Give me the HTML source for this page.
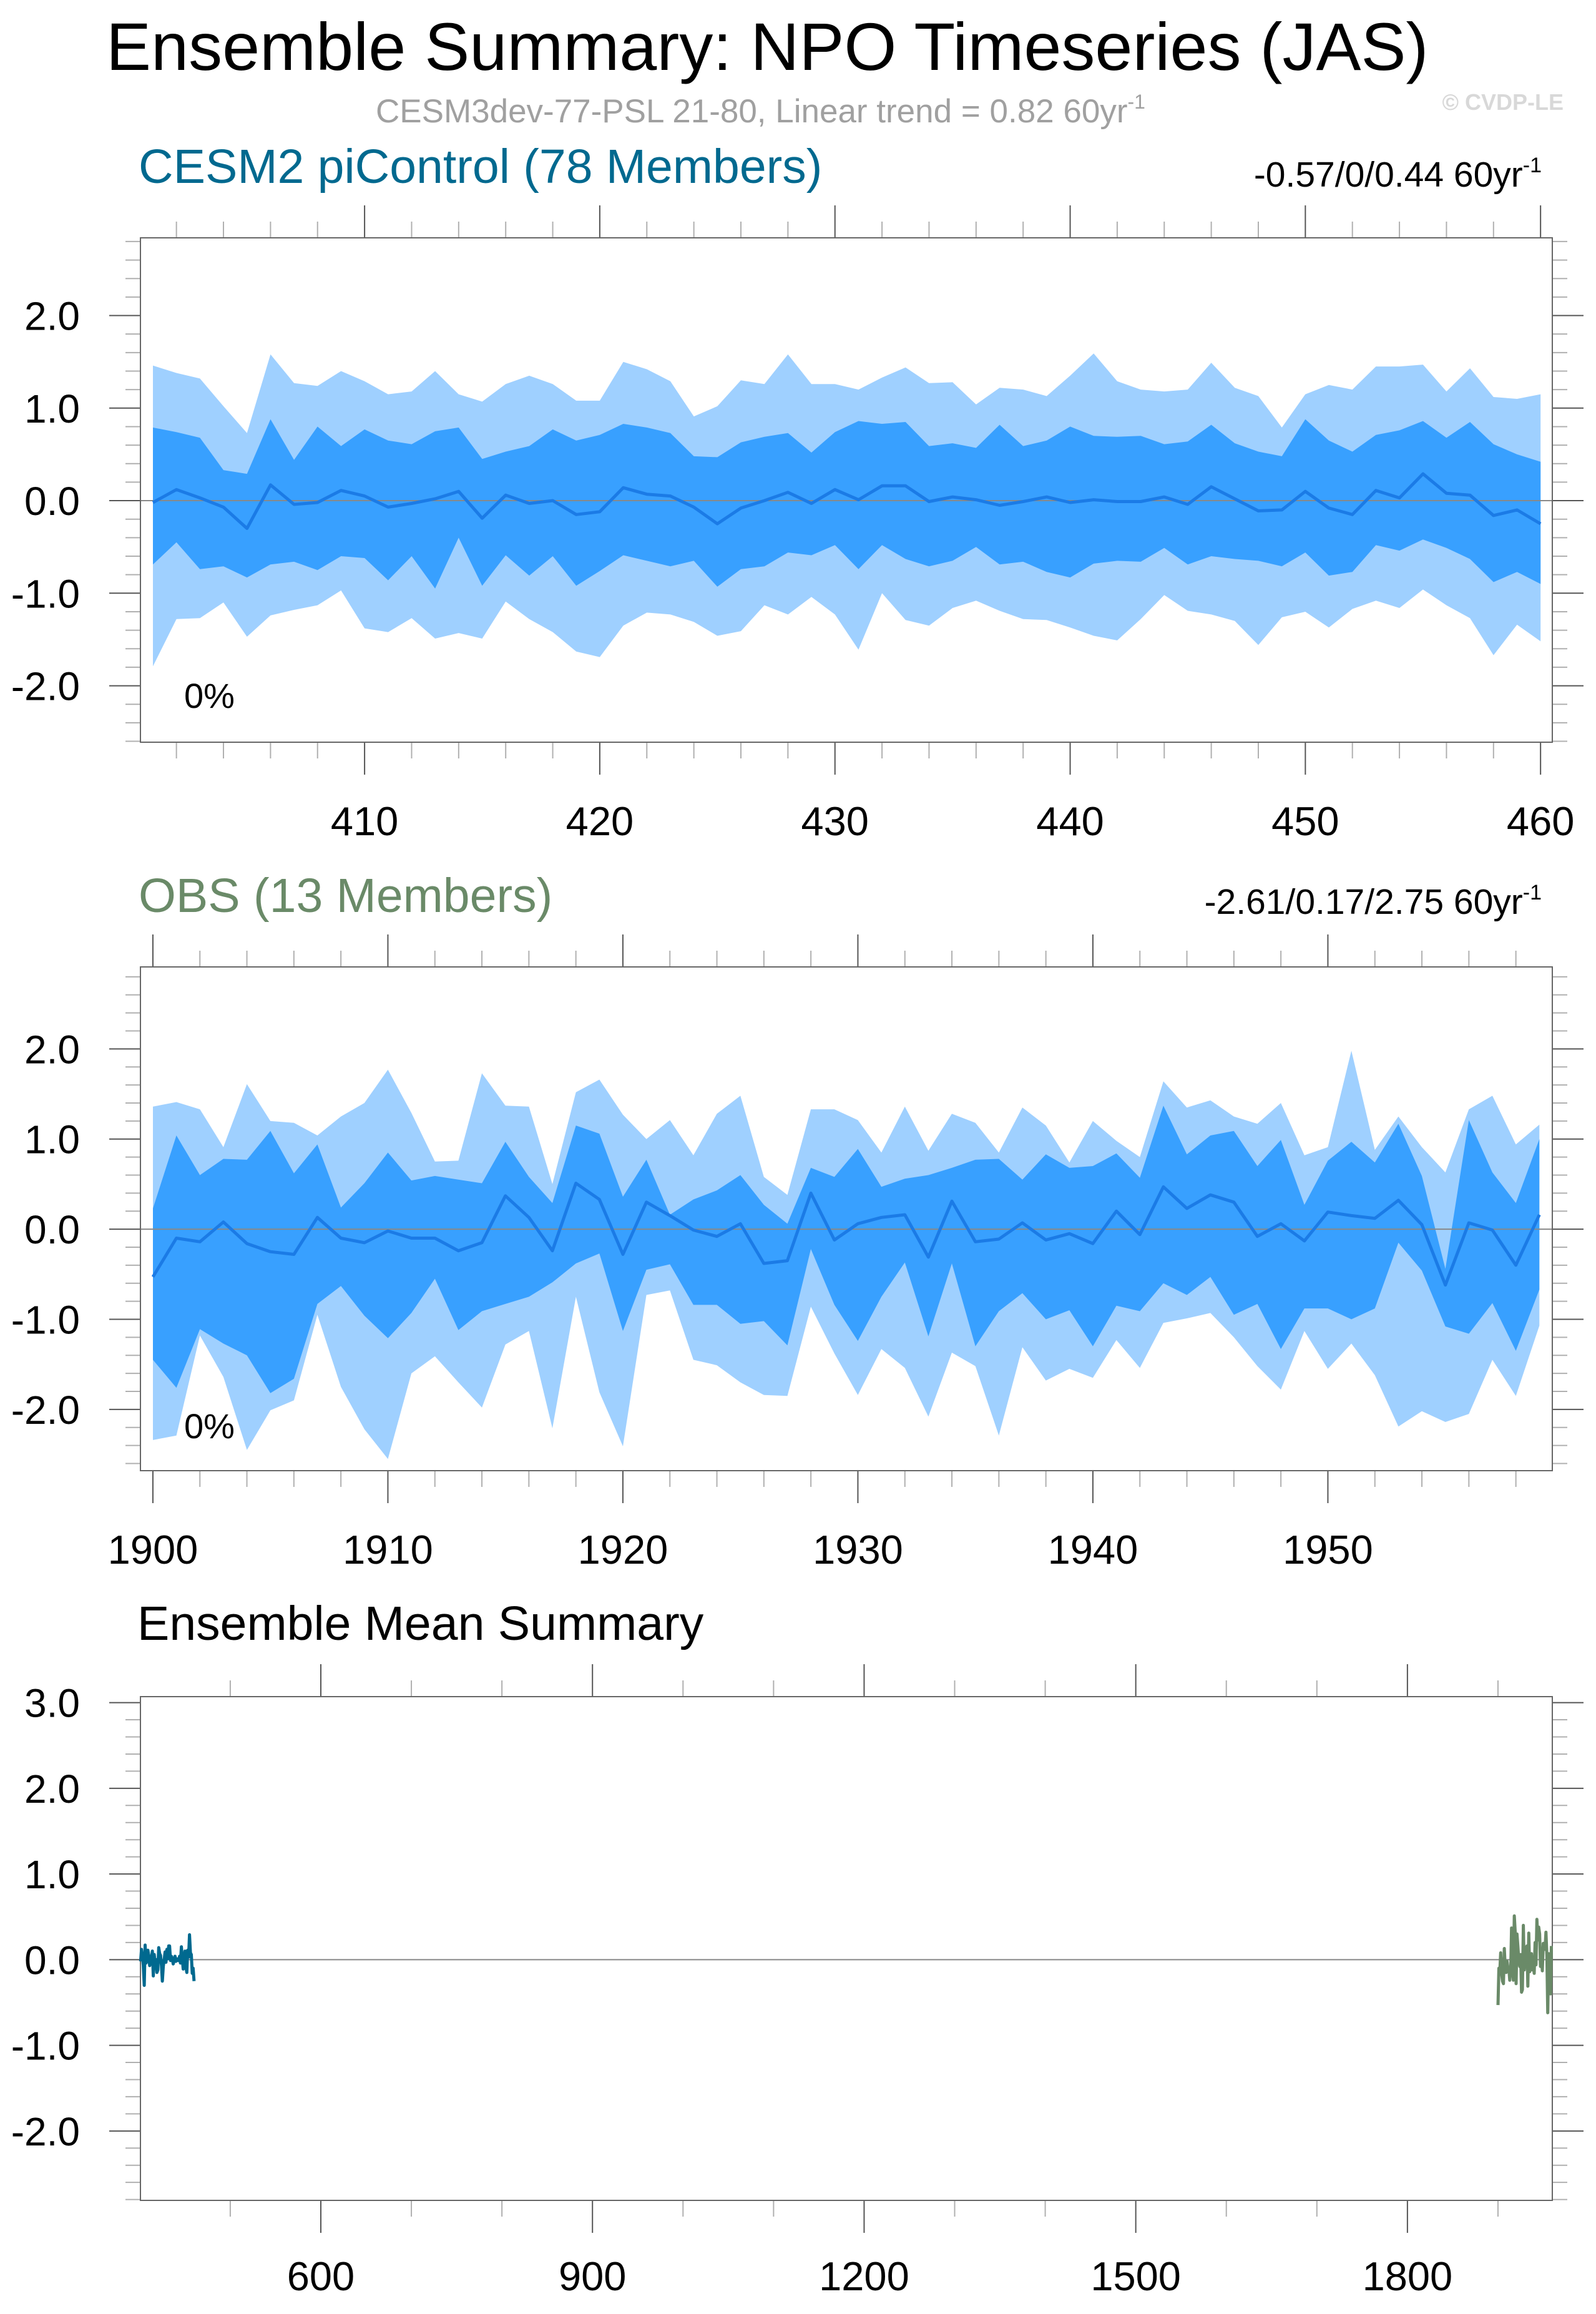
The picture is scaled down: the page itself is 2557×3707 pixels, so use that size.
<!DOCTYPE html>
<html><head><meta charset="utf-8"><style>
html,body{margin:0;padding:0;background:#fff;}
svg{display:block;font-family:"Liberation Sans",sans-serif;}
</style></head><body>
<svg id="chart" xmlns="http://www.w3.org/2000/svg" width="2557" height="3707" viewBox="0 0 2557 3707">
<text x="170" y="112" font-size="108" fill="#000">Ensemble Summary: NPO Timeseries (JAS)</text>
<text x="602" y="196" font-size="53" fill="#a0a0a0">CESM3dev-77-PSL 21-80, Linear trend = 0.82 60yr<tspan dy="-22" font-size="32">-1</tspan></text>
<text x="2505" y="176" font-size="36" font-weight="bold" fill="#d8d8d8" text-anchor="end">© CVDP-LE</text>
<text x="222" y="293" font-size="77" fill="#00698f">CESM2 piControl (78 Members)</text>
<text x="2470" y="299" font-size="57" fill="#000" text-anchor="end">-0.57/0/0.44 60yr<tspan dy="-23" font-size="34">-1</tspan></text>
<text x="222" y="1461" font-size="77" fill="#6a8a68">OBS (13 Members)</text>
<text x="2470" y="1464" font-size="57" fill="#000" text-anchor="end">-2.61/0.17/2.75 60yr<tspan dy="-23" font-size="34">-1</tspan></text>
<text x="220" y="2627" font-size="77" fill="#000">Ensemble Mean Summary</text>
</svg>
<script>
// ---- Panel 1: CESM2 piControl ----
const cesmYears = []; for (let y = 401; y <= 460; y++) cesmYears.push(y);
const cesmLightUpper = [1.46,1.38,1.32,1.02,0.73,1.58,1.27,1.24,1.40,1.29,1.15,1.18,1.40,1.15,1.07,1.26,1.35,1.26,1.08,1.08,1.50,1.42,1.29,0.91,1.02,1.30,1.26,1.58,1.26,1.26,1.20,1.33,1.44,1.27,1.28,1.04,1.22,1.20,1.13,1.35,1.59,1.29,1.20,1.18,1.20,1.49,1.22,1.13,0.79,1.15,1.25,1.20,1.45,1.45,1.47,1.18,1.43,1.12,1.10,1.15];
const cesmDarkUpper = [0.79,0.74,0.68,0.33,0.29,0.88,0.44,0.80,0.59,0.77,0.65,0.61,0.75,0.79,0.45,0.53,0.59,0.77,0.65,0.71,0.83,0.79,0.73,0.48,0.47,0.63,0.69,0.73,0.52,0.74,0.86,0.83,0.85,0.59,0.62,0.57,0.82,0.59,0.65,0.80,0.70,0.69,0.70,0.61,0.64,0.82,0.62,0.53,0.48,0.88,0.65,0.53,0.71,0.76,0.86,0.68,0.85,0.61,0.50,0.42];
const cesmMean = [-0.02,0.12,0.03,-0.07,-0.30,0.17,-0.04,-0.02,0.11,0.05,-0.07,-0.03,0.02,0.10,-0.19,0.06,-0.03,0.0,-0.15,-0.12,0.14,0.07,0.05,-0.07,-0.25,-0.08,0.0,0.09,-0.03,0.12,0.01,0.16,0.16,-0.01,0.04,0.01,-0.05,-0.01,0.04,-0.02,0.01,-0.01,-0.01,0.04,-0.04,0.15,0.02,-0.11,-0.10,0.10,-0.08,-0.15,0.11,0.03,0.29,0.08,0.06,-0.16,-0.10,-0.25];
const cesmDarkLower = [-0.69,-0.45,-0.74,-0.71,-0.83,-0.69,-0.66,-0.75,-0.60,-0.62,-0.86,-0.60,-0.95,-0.40,-0.92,-0.59,-0.81,-0.60,-0.92,-0.76,-0.59,-0.65,-0.71,-0.65,-0.93,-0.74,-0.71,-0.56,-0.59,-0.48,-0.74,-0.48,-0.63,-0.71,-0.65,-0.50,-0.69,-0.66,-0.77,-0.83,-0.68,-0.65,-0.66,-0.51,-0.69,-0.60,-0.63,-0.65,-0.71,-0.56,-0.81,-0.77,-0.48,-0.54,-0.42,-0.51,-0.63,-0.88,-0.77,-0.90];
const cesmLightLower = [-1.79,-1.28,-1.27,-1.10,-1.47,-1.24,-1.18,-1.13,-0.97,-1.38,-1.42,-1.27,-1.49,-1.43,-1.49,-1.09,-1.28,-1.42,-1.63,-1.69,-1.35,-1.21,-1.23,-1.31,-1.46,-1.41,-1.13,-1.23,-1.04,-1.23,-1.61,-1.00,-1.29,-1.35,-1.16,-1.08,-1.19,-1.28,-1.29,-1.37,-1.46,-1.51,-1.28,-1.02,-1.19,-1.23,-1.30,-1.56,-1.26,-1.20,-1.37,-1.17,-1.08,-1.16,-0.96,-1.13,-1.27,-1.67,-1.34,-1.52];
// ---- Panel 2: OBS ----
const obsYears = []; for (let y = 1900; y <= 1959; y++) obsYears.push(y);
const obsLightUpper = [1.36,1.41,1.33,0.91,1.61,1.20,1.18,1.04,1.25,1.40,1.77,1.29,0.75,0.76,1.73,1.37,1.36,0.50,1.52,1.66,1.27,1.00,1.21,0.82,1.28,1.48,0.58,0.38,1.33,1.33,1.21,0.85,1.36,0.87,1.28,1.18,0.85,1.35,1.15,0.74,1.20,0.98,0.80,1.64,1.35,1.43,1.25,1.17,1.40,0.82,0.91,1.98,0.88,1.25,0.91,0.63,1.33,1.48,0.94,1.16];
const obsDarkUpper = [0.23,1.04,0.60,0.78,0.77,1.09,0.62,0.94,0.24,0.51,0.85,0.54,0.59,0.55,0.51,0.97,0.58,0.29,1.15,1.06,0.36,0.77,0.16,0.33,0.43,0.60,0.27,0.06,0.68,0.58,0.89,0.47,0.56,0.60,0.68,0.77,0.78,0.55,0.83,0.68,0.70,0.84,0.57,1.37,0.83,1.04,1.09,0.70,0.99,0.27,0.76,0.97,0.74,1.17,0.59,-0.44,1.21,0.63,0.29,1.00];
const obsMean = [-0.53,-0.10,-0.14,0.08,-0.16,-0.25,-0.28,0.13,-0.10,-0.15,-0.02,-0.10,-0.10,-0.24,-0.15,0.37,0.13,-0.24,0.51,0.33,-0.28,0.30,0.15,-0.01,-0.08,0.06,-0.38,-0.35,0.40,-0.12,0.06,0.13,0.16,-0.31,0.31,-0.14,-0.11,0.07,-0.12,-0.05,-0.16,0.20,-0.06,0.47,0.23,0.38,0.30,-0.08,0.06,-0.13,0.19,0.15,0.12,0.32,0.05,-0.62,0.07,-0.01,-0.40,0.16];
const obsDarkLower = [-1.45,-1.76,-1.11,-1.27,-1.40,-1.82,-1.66,-0.83,-0.63,-0.96,-1.21,-0.93,-0.55,-1.12,-0.91,-0.83,-0.75,-0.59,-0.38,-0.27,-1.13,-0.45,-0.39,-0.84,-0.84,-1.05,-1.02,-1.29,-0.22,-0.84,-1.24,-0.75,-0.37,-1.19,-0.38,-1.30,-0.91,-0.71,-1.00,-0.90,-1.30,-0.85,-0.91,-0.60,-0.73,-0.53,-0.95,-0.83,-1.33,-0.88,-0.88,-1.00,-0.88,-0.15,-0.46,-1.08,-1.16,-0.82,-1.35,-0.67];
const obsLightLower = [-2.34,-2.29,-1.18,-1.64,-2.45,-2.01,-1.90,-0.95,-1.75,-2.22,-2.55,-1.60,-1.41,-1.70,-1.98,-1.28,-1.13,-2.21,-0.75,-1.81,-2.41,-0.73,-0.68,-1.45,-1.51,-1.70,-1.84,-1.85,-0.86,-1.38,-1.84,-1.33,-1.54,-2.08,-1.37,-1.52,-2.29,-1.31,-1.68,-1.55,-1.65,-1.23,-1.54,-1.04,-0.99,-0.93,-1.20,-1.52,-1.78,-1.13,-1.55,-1.27,-1.62,-2.19,-2.02,-2.14,-2.05,-1.45,-1.85,-1.07];
// ---- tick labels ----
const p1XTicks = [410,420,430,440,450,460];
const p2XTicks = [1900,1910,1920,1930,1940,1950];
const p3XTicks = [600,900,1200,1500,1800];
const p12YTicks = [-2.0,-1.0,0.0,1.0,2.0];
const p3YTicks = [-2.0,-1.0,0.0,1.0,2.0,3.0];

const NS = "http://www.w3.org/2000/svg";
const svg = document.getElementById('chart');
function mk(tag, attrs, parent) {
  const e = document.createElementNS(NS, tag);
  for (const k in attrs) e.setAttribute(k, attrs[k]);
  (parent || svg).appendChild(e);
  return e;
}
function linScale(d0, d1, r0, r1) { return v => r0 + (v - d0) / (d1 - d0) * (r1 - r0); }

function drawFrame(g, p, xs, ys, xMajors, xMinorStep, yMajors, yMinorStep, labelY) {
  const z = mk('line', {x1:p.l, x2:p.r, y1:ys(0), y2:ys(0), stroke:'#888', 'stroke-width':2}, g);
  
  
  const xs0 = Math.ceil(p.xmin / xMinorStep) * xMinorStep;
  for (let v = xs0; v <= p.xmax; v += xMinorStep) {
    const x = xs(v);
    const major = xMajors.indexOf(v) >= 0;
    const len = major ? 52 : 26;
    const c = major ? '#555' : '#b0b0b0';
    const t1 = mk('line', {x1:x, x2:x, y1:p.t, y2:p.t - len, stroke:c, 'stroke-width':2}, g);
    
    
    const t2 = mk('line', {x1:x, x2:x, y1:p.b, y2:p.b + len, stroke:c, 'stroke-width':2}, g);
    
    
  }
  xMajors.forEach(v => {
    const t = mk('text', {x:xs(v), y:labelY, 'font-size':65, 'text-anchor':'middle', fill:'#000'}, g);
    t.textContent = String(v);
    
    
  });
  const n0 = Math.ceil(p.ymin / yMinorStep - 1e-6), n1 = Math.floor(p.ymax / yMinorStep + 1e-6);
  for (let n = n0; n <= n1; n++) {
    const v = n * yMinorStep;
    const y = ys(v);
    const major = yMajors.some(m => Math.abs(m - v) < 1e-6);
    const len = major ? 50 : 24;
    const c = major ? '#555' : '#b0b0b0';
    const a = mk('line', {x1:p.l, x2:p.l - len, y1:y, y2:y, stroke:c, 'stroke-width':2}, g);
    
    
    const b = mk('line', {x1:p.r, x2:p.r + len, y1:y, y2:y, stroke:c, 'stroke-width':2}, g);
    
    
  }
  yMajors.forEach(v => {
    const t = mk('text', {x:128, y:ys(v) + 23, 'font-size':64, 'text-anchor':'end', fill:'#000'}, g);
    t.textContent = v.toFixed(1);
    
    
  });
  const f = mk('rect', {x:p.l, y:p.t, width:p.r - p.l, height:p.b - p.t, fill:'none', stroke:'#666', 'stroke-width':2}, g);
  
  
}

function bandPath(xs, ys, years, up, lo) {
  let d = '';
  years.forEach((yr, i) => { d += (i ? 'L' : 'M') + xs(yr).toFixed(1) + ',' + ys(up[i]).toFixed(1); });
  for (let i = years.length - 1; i >= 0; i--) d += 'L' + xs(years[i]).toFixed(1) + ',' + ys(lo[i]).toFixed(1);
  return d + 'Z';
}
function linePath(xs, ys, years, vals) {
  return years.map((yr, i) => (i ? 'L' : 'M') + xs(yr).toFixed(1) + ',' + ys(vals[i]).toFixed(1)).join('');
}

function drawEnsemble(name, p, years, lu, du, mean, dl, ll, xMajors, labelY) {
  const g = mk('g', {});
  
  
  const xs = linScale(p.xmin, p.xmax, p.l, p.r);
  const ys = linScale(p.ymin, p.ymax, p.b, p.t);
  const a = mk('path', {d:bandPath(xs, ys, years, lu, ll), fill:'#9fd0ff'}, g);
  
  
  const b = mk('path', {d:bandPath(xs, ys, years, du, dl), fill:'#38a0ff'}, g);
  
  
  drawFrame(g, p, xs, ys, xMajors, 2, p12YTicks, 0.2, labelY);
  const m = mk('path', {d:linePath(xs, ys, years, mean), fill:'none', stroke:'#1b7be6', 'stroke-width':5, 'stroke-linejoin':'round'}, g);
  
  
  const t = mk('text', {x:295, y:p.pctY, 'font-size':56, fill:'#000'}, g);
  t.textContent = '0%';
  
  
}

const P1 = {l:225, r:2487, t:381, b:1189, xmin:400.47, xmax:460.5, ymin:-2.61, ymax:2.84, pctY:1134};
const P2 = {l:225, r:2487, t:1549, b:2356, xmin:1899.47, xmax:1959.55, ymin:-2.68, ymax:2.91, pctY:2304};
const P3 = {l:225, r:2487, t:2718, b:3525, xmin:400.8, xmax:1960, ymin:-2.81, ymax:3.07};

drawEnsemble('cesm2-picontrol-panel', P1, cesmYears, cesmLightUpper, cesmDarkUpper, cesmMean, cesmDarkLower, cesmLightLower, p1XTicks, 1338);
drawEnsemble('obs-panel', P2, obsYears, obsLightUpper, obsDarkUpper, obsMean, obsDarkLower, obsLightLower, p2XTicks, 2505);

(function () {
  const g = mk('g', {});
  
  
  const xs = linScale(P3.xmin, P3.xmax, P3.l, P3.r);
  const ys = linScale(P3.ymin, P3.ymax, P3.b, P3.t);
  drawFrame(g, P3, xs, ys, p3XTicks, 100, p3YTicks, 0.2, 3669);
  const a = mk('path', {d:linePath(xs, ys, cesmYears, cesmMean), fill:'none', stroke:'#00698f', 'stroke-width':5, 'stroke-linejoin':'round'}, g);
  
  
  const b = mk('path', {d:linePath(xs, ys, obsYears, obsMean), fill:'none', stroke:'#6a8a68', 'stroke-width':5, 'stroke-linejoin':'round'}, g);
  
  
})();
</script>
</body></html>
